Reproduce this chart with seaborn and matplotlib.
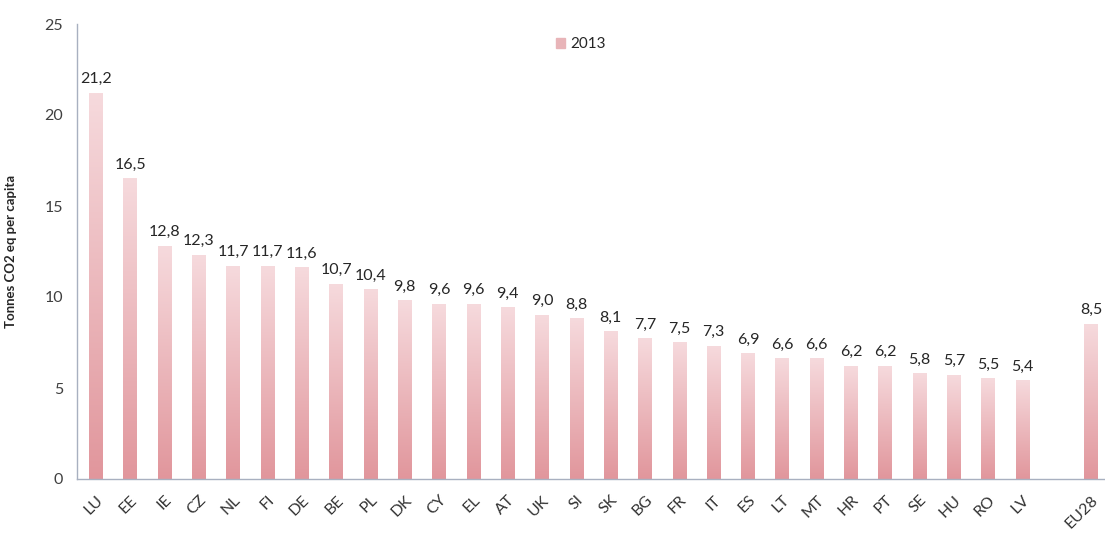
import numpy as np
import pandas as pd
import matplotlib
matplotlib.use("Agg")
import matplotlib.pyplot as plt
import seaborn as sns
from matplotlib.colors import LinearSegmentedColormap
from matplotlib.patches import Patch

# data
countries = ["LU", "EE", "IE", "CZ", "NL", "FI", "DE", "BE", "PL", "DK",
             "CY", "EL", "AT", "UK", "SI", "SK", "BG", "FR", "IT", "ES",
             "LT", "MT", "HR", "PT", "SE", "HU", "RO", "LV", "EU28"]
values = [21.2, 16.5, 12.8, 12.3, 11.7, 11.7, 11.6, 10.7, 10.4, 9.8,
          9.6, 9.6, 9.4, 9.0, 8.8, 8.1, 7.7, 7.5, 7.3, 6.9,
          6.6, 6.6, 6.2, 6.2, 5.8, 5.7, 5.5, 5.4, 8.5]
year = "2013"

df = pd.DataFrame({"country": countries, "value": values})
order = countries[:-1] + [" "] + ["EU28"]

sns.set_style("white")
plt.rcParams["font.family"] = ["Lato", "DejaVu Sans"]

fig = plt.figure(figsize=(11.05, 5.35), dpi=100)
ax = fig.add_axes([77 / 1105, 56 / 535, 1 - 77 / 1105, 455 / 535])

sns.barplot(data=df, x="country", y="value", order=order, color="#e8a9ae",
            width=0.4, ax=ax)

# vertical gradient in every bar, light at top, darker at bottom
cmap = LinearSegmentedColormap.from_list("pinkgrad", ["#e1969c", "#f6dadd"])
grad = np.linspace(0, 1, 256).reshape(-1, 1)
for p in ax.patches:
    x0, y0 = p.get_x(), p.get_y()
    w, h = p.get_width(), p.get_height()
    if h <= 0:
        continue
    ax.imshow(grad, extent=[x0, x0 + w, y0, y0 + h], origin="lower",
              cmap=cmap, aspect="auto", zorder=2)
    p.set_visible(False)

# value labels with decimal comma
for i, c in enumerate(order):
    if c.strip() == "":
        continue
    v = values[countries.index(c)]
    ax.annotate(f"{v:.1f}".replace(".", ","), (i, v), xytext=(0, 5),
                textcoords="offset points", ha="center", va="bottom",
                fontsize=11.5, color="#262626")

ax.set_xlim(-0.55, len(order) - 0.6)
ax.set_ylim(0, 25)
ax.set_yticks([0, 5, 10, 15, 20, 25])
ax.set_xlabel("")
ax.set_ylabel("Tonnes CO2 eq per capita", fontsize=9.5, fontweight="bold",
              labelpad=20)

ax.set_xticks(range(len(order)))
ax.set_xticklabels([c.strip() for c in order], rotation=45, ha="right",
                   rotation_mode="anchor", fontsize=11.5, color="#333333")
ax.set_xticks(np.arange(-0.5, len(order) - 0.5, 1), minor=True)
ax.tick_params(axis="x", which="major", length=0, pad=10)
ax.tick_params(axis="x", which="minor", length=4, color="#a8b0c0")
ax.tick_params(axis="y", length=4, color="#a8b0c0", labelsize=11.5,
               labelcolor="#404040", pad=6)

for s in ["top", "right"]:
    ax.spines[s].set_visible(False)
for s in ["left", "bottom"]:
    ax.spines[s].set_color("#a8b0c0")
    ax.spines[s].set_linewidth(1)

ax.legend(handles=[Patch(color="#e8b4b8", label=year)], loc="center",
          bbox_to_anchor=(0.49, 0.955), frameon=False, fontsize=11,
          handlelength=0.6, handleheight=0.6, handletextpad=0.3)

fig.savefig("out.png", dpi=100)
